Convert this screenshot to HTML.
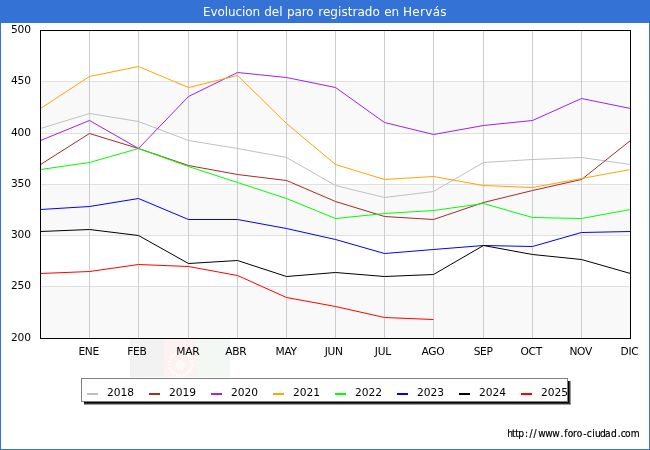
<!DOCTYPE html>
<html lang="es"><head><meta charset="utf-8"><title>Evolucion del paro registrado en Hervás</title>
<style>html,body{margin:0;padding:0;background:#fff}body{width:650px;height:450px;overflow:hidden}svg{display:block}text{font-family:"DejaVu Sans","Liberation Sans",sans-serif}</style></head><body>
<svg width="650" height="450" viewBox="0 0 650 450">
<rect x="0" y="0" width="650" height="450" fill="#3472d6"/>
<rect x="1" y="23" width="648" height="426" fill="#ffffff"/>
<rect x="130" y="339" width="34" height="38" fill="#f2f2f2"/>
<rect x="164" y="339" width="33" height="38" fill="#fdf2f2"/>
<rect x="197" y="339" width="33" height="38" fill="#f3f8f4"/>
<circle cx="180.5" cy="364" r="11.5" fill="none" stroke="#ffffff" stroke-opacity="0.75" stroke-width="3" stroke-dasharray="2.2 1.2"/>
<circle cx="180.5" cy="365" r="5" fill="#ffffff" fill-opacity="0.55"/>
<rect x="41" y="81" width="589" height="52" fill="#f9f9f9"/>
<rect x="41" y="184" width="589" height="51" fill="#f9f9f9"/>
<rect x="41" y="286" width="589" height="52" fill="#f9f9f9"/>
<rect x="41" y="81" width="589" height="1" fill="#e0e0e0"/>
<rect x="41" y="133" width="589" height="1" fill="#e0e0e0"/>
<rect x="41" y="184" width="589" height="1" fill="#e0e0e0"/>
<rect x="41" y="235" width="589" height="1" fill="#e0e0e0"/>
<rect x="41" y="286" width="589" height="1" fill="#e0e0e0"/>
<rect x="89" y="31" width="1" height="307" fill="#cdcdcd"/>
<rect x="138" y="31" width="1" height="307" fill="#cdcdcd"/>
<rect x="188" y="31" width="1" height="307" fill="#cdcdcd"/>
<rect x="237" y="31" width="1" height="307" fill="#cdcdcd"/>
<rect x="286" y="31" width="1" height="307" fill="#cdcdcd"/>
<rect x="335" y="31" width="1" height="307" fill="#cdcdcd"/>
<rect x="384" y="31" width="1" height="307" fill="#cdcdcd"/>
<rect x="433" y="31" width="1" height="307" fill="#cdcdcd"/>
<rect x="483" y="31" width="1" height="307" fill="#cdcdcd"/>
<rect x="532" y="31" width="1" height="307" fill="#cdcdcd"/>
<rect x="581" y="31" width="1" height="307" fill="#cdcdcd"/>
<polyline points="40.50,128.50 89.50,113.50 138.50,121.50 188.50,140.50 237.50,148.50 286.50,157.50 335.50,185.50 384.50,197.50 433.50,191.50 483.50,162.50 532.50,159.50 581.50,157.50 630.50,164.50" fill="none" stroke="#c0c0c0" stroke-width="1" stroke-linejoin="round"/>
<polyline points="40.50,164.50 89.50,133.50 138.50,148.50 188.50,165.50 237.50,174.50 286.50,180.50 335.50,201.50 384.50,216.50 433.50,219.50 483.50,202.50 532.50,190.50 581.50,179.50 630.50,140.50" fill="none" stroke="#a52a2a" stroke-width="1" stroke-linejoin="round"/>
<polyline points="40.50,140.50 89.50,120.50 138.50,148.50 188.50,96.50 237.50,72.50 286.50,77.50 335.50,87.50 384.50,122.50 433.50,134.50 483.50,125.50 532.50,120.50 581.50,98.50 630.50,108.50" fill="none" stroke="#a020f0" stroke-width="1" stroke-linejoin="round"/>
<polyline points="40.50,108.50 89.50,76.50 138.50,66.50 188.50,87.50 237.50,75.50 286.50,123.50 335.50,164.50 384.50,179.50 433.50,176.50 483.50,185.50 532.50,187.50 581.50,178.50 630.50,169.50" fill="none" stroke="#ffa500" stroke-width="1" stroke-linejoin="round"/>
<polyline points="40.50,169.50 89.50,162.50 138.50,148.50 188.50,166.50 237.50,182.50 286.50,198.50 335.50,218.50 384.50,213.50 433.50,210.50 483.50,203.50 532.50,217.50 581.50,218.50 630.50,209.50" fill="none" stroke="#00ff00" stroke-width="1" stroke-linejoin="round"/>
<polyline points="40.50,209.50 89.50,206.50 138.50,198.50 188.50,219.50 237.50,219.50 286.50,228.50 335.50,239.50 384.50,253.50 433.50,249.50 483.50,245.50 532.50,246.50 581.50,232.50 630.50,231.50" fill="none" stroke="#0000ff" stroke-width="1" stroke-linejoin="round"/>
<polyline points="40.50,231.50 89.50,229.50 138.50,235.50 188.50,263.50 237.50,260.50 286.50,276.50 335.50,272.50 384.50,276.50 433.50,274.50 483.50,245.50 532.50,254.50 581.50,259.50 630.50,273.50" fill="none" stroke="#000000" stroke-width="1" stroke-linejoin="round"/>
<polyline points="40.50,273.50 89.50,271.50 138.50,264.50 188.50,266.50 237.50,275.50 286.50,297.50 335.50,306.50 384.50,317.50 433.50,319.50" fill="none" stroke="#ff0000" stroke-width="1" stroke-linejoin="round"/>
<rect x="40.5" y="30.5" width="590" height="308" fill="none" stroke="#000" stroke-width="1"/>
<text y="16" font-size="12" fill="#fff" xml:space="preserve"><tspan x="203.0" letter-spacing="-0.1">Evolucion </tspan><tspan x="264.2" letter-spacing="0">del </tspan><tspan x="287.0" letter-spacing="-0.1">paro </tspan><tspan x="318.2" letter-spacing="0.05">registrado </tspan><tspan x="384.2" letter-spacing="0">en </tspan><tspan x="403.0" letter-spacing="0.3">Hervás</tspan></text>
<text x="30.85" y="33.2" font-size="10.67" fill="#000" text-anchor="end" letter-spacing="-0.15">500</text>
<text x="30.85" y="84.2" font-size="10.67" fill="#000" text-anchor="end" letter-spacing="-0.15">450</text>
<text x="30.85" y="136.2" font-size="10.67" fill="#000" text-anchor="end" letter-spacing="-0.15">400</text>
<text x="30.85" y="187.2" font-size="10.67" fill="#000" text-anchor="end" letter-spacing="-0.15">350</text>
<text x="30.85" y="238.2" font-size="10.67" fill="#000" text-anchor="end" letter-spacing="-0.15">300</text>
<text x="30.85" y="289.2" font-size="10.67" fill="#000" text-anchor="end" letter-spacing="-0.15">250</text>
<text x="30.85" y="341.2" font-size="10.67" fill="#000" text-anchor="end" letter-spacing="-0.15">200</text>
<text x="88.70" y="355" font-size="10.67" fill="#000" text-anchor="middle" letter-spacing="-0.3">ENE</text>
<text x="136.90" y="355" font-size="10.67" fill="#000" text-anchor="middle" letter-spacing="-0.3">FEB</text>
<text x="187.80" y="355" font-size="10.67" fill="#000" text-anchor="middle" letter-spacing="-0.3">MAR</text>
<text x="235.80" y="355" font-size="10.67" fill="#000" text-anchor="middle" letter-spacing="-0.3">ABR</text>
<text x="286.15" y="355" font-size="10.67" fill="#000" text-anchor="middle" letter-spacing="-0.3">MAY</text>
<text x="333.70" y="355" font-size="10.67" fill="#000" text-anchor="middle" letter-spacing="-0.3">JUN</text>
<text x="382.85" y="355" font-size="10.67" fill="#000" text-anchor="middle" letter-spacing="-0.3">JUL</text>
<text x="432.95" y="355" font-size="10.67" fill="#000" text-anchor="middle" letter-spacing="-0.3">AGO</text>
<text x="483.15" y="355" font-size="10.67" fill="#000" text-anchor="middle" letter-spacing="-0.3">SEP</text>
<text x="531.20" y="355" font-size="10.67" fill="#000" text-anchor="middle" letter-spacing="-0.3">OCT</text>
<text x="580.70" y="355" font-size="10.67" fill="#000" text-anchor="middle" letter-spacing="-0.3">NOV</text>
<text x="629.55" y="355" font-size="10.67" fill="#000" text-anchor="middle" letter-spacing="-0.3">DIC</text>
<rect x="84" y="381" width="487" height="24" fill="#9a9a9a"/>
<rect x="84" y="381" width="486" height="23" fill="#383838"/>
<rect x="84" y="381" width="485" height="22" fill="#000"/>
<rect x="81.5" y="378.5" width="486" height="23" fill="#fff" stroke="#808080" stroke-width="1"/>
<rect x="87.00" y="393" width="11" height="2" fill="#c0c0c0"/>
<text x="106.90" y="396" font-size="10.67" fill="#000">2018</text>
<rect x="149.00" y="393" width="11" height="2" fill="#a52a2a"/>
<text x="168.90" y="396" font-size="10.67" fill="#000">2019</text>
<rect x="211.00" y="393" width="11" height="2" fill="#a020f0"/>
<text x="230.90" y="396" font-size="10.67" fill="#000">2020</text>
<rect x="273.00" y="393" width="11" height="2" fill="#ffa500"/>
<text x="292.90" y="396" font-size="10.67" fill="#000">2021</text>
<rect x="335.00" y="393" width="11" height="2" fill="#00ff00"/>
<text x="354.90" y="396" font-size="10.67" fill="#000">2022</text>
<rect x="397.00" y="393" width="11" height="2" fill="#0000ff"/>
<text x="416.90" y="396" font-size="10.67" fill="#000">2023</text>
<rect x="459.00" y="393" width="11" height="2" fill="#000000"/>
<text x="478.90" y="396" font-size="10.67" fill="#000">2024</text>
<rect x="521.00" y="393" width="11" height="2" fill="#ff0000"/>
<text x="540.90" y="396" font-size="10.67" fill="#000">2025</text>
<text transform="scale(0.95,1)" x="533.84 539.05 542.26 545.63 552.68 557.42 561.58 566.47 573.95 581.32 590.05 593.84 597.63 603.11 607.21 613.84 617.53 623.32 626.26 631.58 636.79 643.11 650.26 653.47 657.95 663.95" y="437" font-size="10.67" fill="#000" font-family="DejaVu Sans Condensed" font-stretch="condensed" stroke="#000" stroke-width="0.2">http://www.foro-ciudad.com</text>
</svg></body></html>
